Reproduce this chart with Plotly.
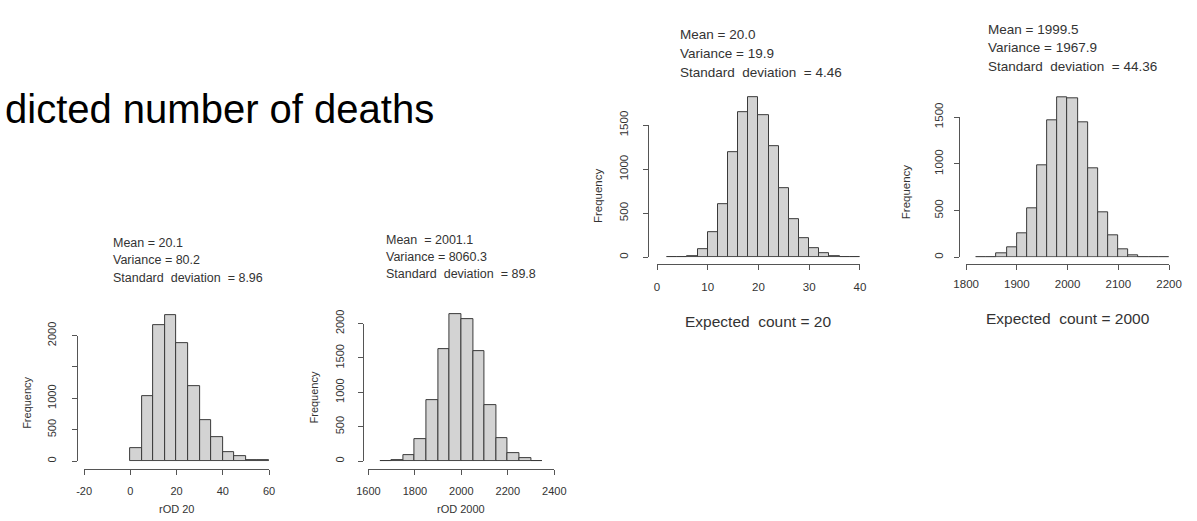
import plotly.graph_objects as go

W, H = 1197, 521

# ---------------- data ----------------
title_text = "dicted number of deaths"

p1_bin_start, p1_bin_width = 0, 5
p1_counts = [200, 1040, 2170, 2330, 1880, 1190, 650, 375, 145, 75, 20, 10]
p1_xticks = [-20, 0, 20, 40, 60]
p1_yticks = [0, 500, 1000, 1500, 2000]
p1_yticklabels = ["0", "500", "1000", "", "2000"]
p1_stats = ["Mean = 20.1", "Variance = 80.2", "Standard  deviation  = 8.96"]
p1_xlabel = "rOD 20"

p2_bin_start, p2_bin_width = 1650, 50
p2_counts = [5, 15, 90, 325, 890, 1625, 2130, 2060, 1600, 810, 330, 120, 38, 8]
p2_xticks = [1600, 1800, 2000, 2200, 2400]
p2_yticks = [0, 500, 1000, 1500, 2000]
p2_yticklabels = ["0", "500", "1000", "1500", "2000"]
p2_stats = ["Mean  = 2001.1", "Variance = 8060.3", "Standard  deviation  = 89.8"]
p2_xlabel = "rOD 2000"

p3_bin_start, p3_bin_width = 2, 2
p3_counts = [2, 5, 15, 92, 286, 605, 1199, 1643, 1815, 1617, 1265, 781, 433,
             220, 103, 44, 15, 4, 2]
p3_xticks = [0, 10, 20, 30, 40]
p3_yticks = [0, 500, 1000, 1500]
p3_yticklabels = ["0", "500", "1000", "1500"]
p3_stats = ["Mean = 20.0", "Variance = 19.9", "Standard  deviation  = 4.46"]
p3_xlabel = "Expected  count = 20"

p4_bin_start, p4_bin_width = 1820, 20
p4_counts = [2, 5, 41, 111, 252, 522, 989, 1462, 1708, 1697, 1441, 951, 484,
             239, 86, 21, 5, 2, 1]
p4_xticks = [1800, 1900, 2000, 2100, 2200]
p4_yticks = [0, 500, 1000, 1500]
p4_yticklabels = ["0", "500", "1000", "1500"]
p4_stats = ["Mean = 1999.5", "Variance = 1967.9", "Standard  deviation  = 44.36"]
p4_xlabel = "Expected  count = 2000"

ylabel = "Frequency"

# ---------------- layout geometry (pixels) ----------------
panels = [
    dict(start=p1_bin_start, width=p1_bin_width, counts=p1_counts,
         xticks=p1_xticks, yticks=p1_yticks, ytl=p1_yticklabels,
         stats=p1_stats, xlabel=p1_xlabel,
         xpx=(72.7, 261.7), ypx=(460.3, 330.7), yline=65, xline=468,
         ymax=2500, stats_x=100, stats_y=(235, 253, 271.5), stat_fs=12.5,
         xlab_y=510, ylab_x=15, tick_fs=11, lab_fs=11, xlab_fs=11,
         xso=7, yso=11),
    dict(start=p2_bin_start, width=p2_bin_width, counts=p2_counts,
         xticks=p2_xticks, yticks=p2_yticks, ytl=p2_yticklabels,
         stats=p2_stats, xlabel=p2_xlabel,
         xpx=(363.3, 553.3), ypx=(460.3, 318.3), yline=357.7, xline=468,
         ymax=2500, stats_x=379, stats_y=(232, 249.5, 267), stat_fs=12.5,
         xlab_y=510, ylab_x=308, tick_fs=11, lab_fs=11, xlab_fs=11,
         xso=7, yso=10),
    dict(start=p3_bin_start, width=p3_bin_width, counts=p3_counts,
         xticks=p3_xticks, yticks=p3_yticks, ytl=p3_yticklabels,
         stats=p3_stats, xlabel=p3_xlabel,
         xpx=(658.3, 865.7), ypx=(250, 113.7), yline=649, xline=257,
         ymax=2000, stats_x=680, stats_y=(20, 39.5, 59), stat_fs=13.5,
         xlab_y=316, ylab_x=598, tick_fs=11.5, lab_fs=11.5, xlab_fs=15.5,
         xso=7, yso=10),
    dict(start=p4_bin_start, width=p4_bin_width, counts=p4_counts,
         xticks=p4_xticks, yticks=p4_yticks, ytl=p4_yticklabels,
         stats=p4_stats, xlabel=p4_xlabel,
         xpx=(974.3, 1181.7), ypx=(250, 105.3), yline=967.3, xline=257,
         ymax=2000, stats_x=995, stats_y=(15, 33.5, 53), stat_fs=13.5,
         xlab_y=313, ylab_x=913, tick_fs=11.5, lab_fs=11.5, xlab_fs=15.5,
         xso=4, yso=7),
]

FONT = "Liberation Sans, Arial, Helvetica, sans-serif"
AX = "#555555"
TXT = "#333333"


def fx(px):
    return px / W


def fy(py):
    return 1 - py / H


fig = go.Figure()
layout = dict(width=W, height=H, margin=dict(l=0, r=0, t=0, b=0),
              paper_bgcolor="white", plot_bgcolor="rgba(0,0,0,0)",
              showlegend=False, bargap=0, annotations=[])

for i, p in enumerate(panels):
    d = i + 1          # data axes
    k = i + 5          # decoration axes
    centers = [p["start"] + p["width"] * (j + 0.5) for j in range(len(p["counts"]))]
    fig.add_trace(go.Bar(
        x=centers, y=p["counts"], width=[p["width"]] * len(centers),
        marker=dict(color="#d3d3d3", line=dict(color="#3a3a3a", width=1)),
        xaxis=f"x{d}", yaxis=f"y{d}", hoverinfo="skip"))
    # invisible trace so that decoration axes are drawn
    fig.add_trace(go.Scatter(
        x=[p["xticks"][0]], y=[p["yticks"][0]], mode="markers",
        marker=dict(opacity=0), xaxis=f"x{k}", yaxis=f"y{k}", hoverinfo="skip"))

    y0px, y1px = p["ypx"]
    yt1 = p["yticks"][-1]
    ytop_px = y0px - p["ymax"] * (y0px - y1px) / yt1
    xdom = [fx(p["xpx"][0]), fx(p["xpx"][1])]

    layout[f"xaxis{d}"] = dict(domain=xdom, range=[p["xticks"][0], p["xticks"][-1]],
                               visible=False, anchor=f"y{d}", fixedrange=True)
    layout[f"yaxis{d}"] = dict(domain=[fy(y0px), fy(ytop_px)], range=[0, p["ymax"]],
                               visible=False, anchor=f"x{d}", fixedrange=True)

    layout[f"xaxis{k}"] = dict(
        domain=xdom, range=[p["xticks"][0], p["xticks"][-1]],
        anchor="free", position=fy(p["xline"]),
        showline=True, linecolor=AX, linewidth=1,
        ticks="outside", ticklen=5, tickcolor=AX, tickwidth=1,
        tickmode="array", tickvals=p["xticks"],
        ticktext=[str(t) for t in p["xticks"]],
        tickfont=dict(family=FONT, size=p["tick_fs"], color=TXT),
        showgrid=False, zeroline=False, fixedrange=True,
        ticklabelstandoff=p["xso"])
    layout[f"yaxis{k}"] = dict(
        domain=[fy(y0px), fy(y1px)], range=[0, yt1],
        anchor="free", position=fx(p["yline"]),
        showline=True, linecolor=AX, linewidth=1,
        ticks="outside", ticklen=5, tickcolor=AX, tickwidth=1,
        tickmode="array", tickvals=p["yticks"], ticktext=p["ytl"],
        tickangle=-90,
        tickfont=dict(family=FONT, size=p["tick_fs"], color=TXT),
        showgrid=False, zeroline=False, fixedrange=True,
        ticklabelstandoff=p["yso"])

    for s, sy in zip(p["stats"], p["stats_y"]):
        layout["annotations"].append(dict(
            text=s, x=fx(p["stats_x"]), y=fy(sy), xref="paper", yref="paper",
            xanchor="left", yanchor="middle", showarrow=False,
            font=dict(family=FONT, size=p["stat_fs"], color=TXT)))
    layout["annotations"].append(dict(
        text=p["xlabel"], x=(xdom[0] + xdom[1]) / 2, y=fy(p["xlab_y"]),
        xref="paper", yref="paper", xanchor="center", yanchor="middle",
        showarrow=False, font=dict(family=FONT, size=p["xlab_fs"], color=TXT)))
    layout["annotations"].append(dict(
        text=ylabel, x=fx(p["ylab_x"]), y=fy((y0px + y1px) / 2 + 5),
        xref="paper", yref="paper", xanchor="center", yanchor="middle",
        textangle=-90, showarrow=False,
        font=dict(family=FONT, size=p["lab_fs"], color=TXT)))

layout["annotations"].append(dict(
    text=title_text, x=fx(-10), y=fy(97), xref="paper", yref="paper",
    xanchor="left", yanchor="middle", showarrow=False,
    font=dict(family=FONT, size=40, color="#000000")))

fig.update_layout(**layout)
fig.write_html("out.html")
